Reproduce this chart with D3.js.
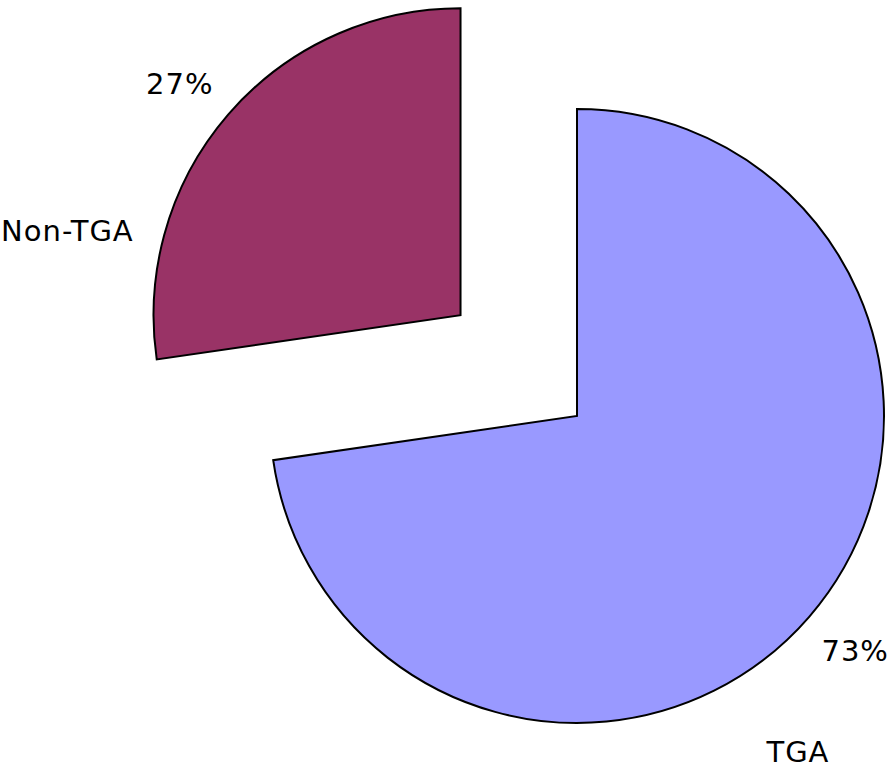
<!DOCTYPE html>
<html>
<head>
<meta charset="utf-8">
<script src="https://cdn.jsdelivr.net/npm/d3@7"></script>
<style>
  html, body { margin: 0; padding: 0; background: #fff; }
  svg { display: block; }
</style>
</head>
<body>
<svg id="chart" width="890" height="771"></svg>
<script>
const categories = ['TGA', 'Non-TGA'];
const values = [72.7, 27.3];
const valueLabels = ['73%', '27%'];
const colors = ['#9999ff', '#993366'];

const svg = d3.select('#chart');
const cx = 577;
const cy = 416;
const radius = 307;
const explode = [0, 154]; // px pulled out along the slice bisector

const pie = d3.pie().sort(null).startAngle(0).value((d) => d.value);
const arcs = pie(categories.map((c, i) => ({name: c, value: values[i]})));

const arc = d3.arc().innerRadius(0).outerRadius(radius);

// d3 angles: 0 at 12 o'clock, clockwise
const polar = (a, r) => [Math.sin(a) * r, -Math.cos(a) * r];
const midAngle = (d) => (d.startAngle + d.endAngle) / 2;

const g = svg.append('g').attr('transform', `translate(${cx},${cy})`);

const slices = g
  .selectAll('g.slice')
  .data(arcs)
  .join('g')
  .attr('class', 'slice')
  .attr('transform', (d, i) => {
    const [dx, dy] = polar(midAngle(d), explode[i]);
    return `translate(${dx},${dy})`;
  });

slices
  .append('path')
  .attr('d', arc)
  .attr('fill', (d, i) => colors[i])
  .attr('stroke', '#000')
  .attr('stroke-width', 2)
  .attr('stroke-linejoin', 'miter');

const font = 'DejaVu Sans, Verdana, sans-serif';

// value labels just outside the rim, near the bisector
const valueShift = [-0.012, -0.023];
const valueR = radius * 1.186;
slices
  .append('text')
  .attr('x', (d, i) => polar(midAngle(d) + valueShift[i], valueR)[0])
  .attr('y', (d, i) => polar(midAngle(d) + valueShift[i], valueR)[1])
  .attr('dy', '0.35em')
  .attr('text-anchor', 'middle')
  .attr('font-family', font)
  .attr('font-size', '29px')
  .attr('letter-spacing', '1px')
  .attr('fill', '#000')
  .text((d, i) => valueLabels[i]);

// category labels, moved round the rim like the source
const nameShift = [0.276, -0.501];
const nameR = radius * 1.31;
slices
  .append('text')
  .attr('x', (d, i) => polar(midAngle(d) + nameShift[i], nameR)[0])
  .attr('y', (d, i) => polar(midAngle(d) + nameShift[i], nameR)[1])
  .attr('dy', '0.35em')
  .attr('text-anchor', 'middle')
  .attr('font-family', font)
  .attr('font-size', '29px')
  .attr('letter-spacing', '1px')
  .attr('fill', '#000')
  .text((d) => d.data.name);
</script>
</body>
</html>
